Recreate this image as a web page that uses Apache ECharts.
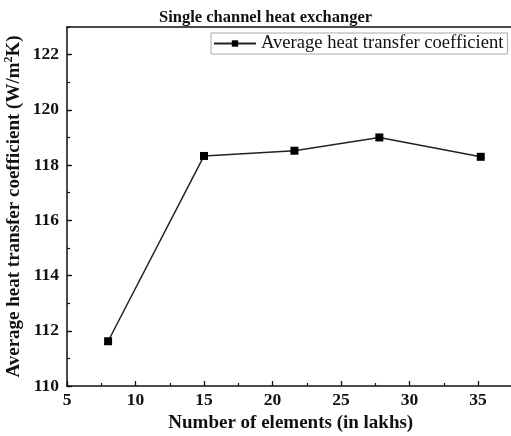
<!DOCTYPE html>
<html>
<head>
<meta charset="utf-8">
<script src="https://cdn.jsdelivr.net/npm/echarts@6/dist/echarts.min.js"></script>
<style>
  html, body { margin: 0; padding: 0; background: #fff; }
  #chart { width: 511px; height: 436px; }
</style>
</head>
<body>
<div id="chart"></div>
<script>
// Mesh size (lakhs of elements) and the resulting average heat transfer coefficient
const elements = [8, 15, 21.6, 27.8, 35.2];
const avgHtc = [111.62, 118.33, 118.52, 119.0, 118.3];
const seriesName = 'Average heat transfer coefficient';

const serif = '"Liberation Serif", "Times New Roman", serif';
const ink = '#111';

const chart = echarts.init(document.getElementById('chart'), null, { renderer: 'canvas' });

chart.setOption({
  animation: false,
  backgroundColor: '#fff',
  title: {
    text: 'Single channel heat exchanger',
    left: 154,
    top: 4,
    textStyle: { fontFamily: serif, fontWeight: 'bold', fontSize: 16.5, color: ink }
  },
  legend: {
    data: [seriesName],
    left: 211,
    top: 33,
    padding: [1, 4, 1, 2],
    itemWidth: 42,
    itemHeight: 8,
    itemGap: 4,
    borderColor: '#aaa',
    borderWidth: 1,
    backgroundColor: '#fff',
    textStyle: { fontFamily: serif, fontSize: 18.6, color: ink }
  },
  grid: { left: 67, top: 27, right: -35.5, bottom: 50, outerBoundsMode: 'none' },
  xAxis: [
    {
      type: 'value',
      min: 5, max: 40, interval: 5,
      name: 'Number of elements (in lakhs)',
      nameLocation: 'middle',
      nameGap: 21,
      nameTextStyle: { fontFamily: serif, fontWeight: 'bold', fontSize: 19, color: ink, padding: [0, 32, 0, 0] },
      axisLine: { lineStyle: { color: ink, width: 1.5 } },
      axisTick: { inside: true, length: 5, lineStyle: { color: ink, width: 1.3 } },
      minorTick: { show: true, splitNumber: 2, length: 3, lineStyle: { color: ink, width: 1.2 } },
      axisLabel: { fontFamily: serif, fontWeight: 'bold', fontSize: 17.5, color: ink, margin: 5 },
      splitLine: { show: false }
    },
    {
      type: 'value',
      position: 'top',
      min: 5, max: 40,
      axisLine: { show: true, lineStyle: { color: ink, width: 1.5 } },
      axisTick: { show: false },
      axisLabel: { show: false },
      splitLine: { show: false }
    }
  ],
  yAxis: [
    {
      type: 'value',
      min: 110, max: 123, interval: 2,
      name: 'Average heat transfer coefficient (W/m{sup|2}K)',
      nameLocation: 'middle',
      nameGap: 42,
      nameMoveOverlap: false,
      nameTextStyle: {
        fontFamily: serif, fontWeight: 'bold', fontSize: 19, color: ink, lineHeight: 22,
        rich: {
          sup: { fontFamily: serif, fontWeight: 'bold', fontSize: 12, color: ink, verticalAlign: 'top', lineHeight: 22 }
        }
      },
      axisLine: { show: true, lineStyle: { color: ink, width: 1.5 } },
      axisTick: { inside: true, length: 5, lineStyle: { color: ink, width: 1.3 } },
      axisLabel: { fontFamily: serif, fontWeight: 'bold', fontSize: 17.5, color: ink, margin: 8, showMaxLabel: false },
      splitLine: { show: false }
    },
    {
      // odd-value minor ticks on the same left spine
      type: 'value',
      position: 'left',
      offset: 0,
      min: 110, max: 123, interval: 1,
      axisLine: { show: false },
      axisTick: { inside: true, length: 3, lineStyle: { color: ink, width: 1.2 } },
      axisLabel: { show: false },
      splitLine: { show: false }
    }
  ],
  series: [
    {
      name: seriesName,
      type: 'line',
      xAxisIndex: 0,
      yAxisIndex: 0,
      data: elements.map((x, i) => [x, avgHtc[i]]),
      symbol: 'rect',
      symbolSize: 8,
      itemStyle: { color: '#000' },
      lineStyle: { color: '#222', width: 1.5 }
    }
  ]
});
</script>
</body>
</html>
